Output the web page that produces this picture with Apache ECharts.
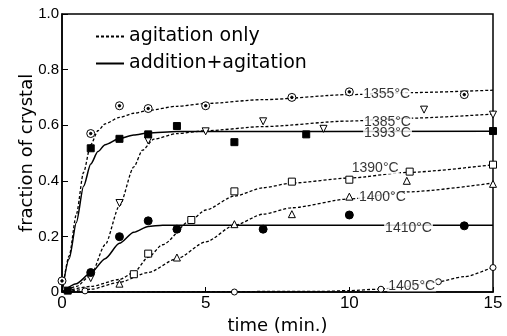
<!DOCTYPE html>
<html>
<head>
<meta charset="UTF-8">
<title>fraction of crystal</title>
<script src="https://cdn.jsdelivr.net/npm/echarts@6/dist/echarts.min.js"></script>
</head>
<body style="margin:0">
<div id="main" style="width:507px;height:336px;"></div>
<script type="text/javascript">
// measured points [time (min.), fraction of crystal]
var p1355 = [[0,0.04],[1,0.57],[2,0.67],[3,0.66],[5,0.67],[8,0.70],[10,0.72],[14,0.71]];
var p1385 = [[1,0.05],[2,0.32],[3,0.545],[5,0.578],[7,0.614],[9.1,0.587],[12.6,0.656],[15,0.638]];
var p1393 = [[0.2,0.005],[1,0.517],[2,0.551],[3,0.567],[4,0.597],[6,0.539],[8.5,0.567],[15,0.579]];
var p1390 = [[2.5,0.064],[3,0.138],[4.5,0.259],[6,0.362],[8,0.397],[10,0.404],[12.1,0.433],[15,0.458]];
var p1400 = [[2,0.03],[4,0.124],[6,0.244],[8,0.28],[10,0.343],[12,0.40],[15,0.389]];
var p1410 = [[1,0.07],[2,0.199],[3,0.256],[4,0.226],[7,0.226],[10,0.277],[14,0.238]];
var p1405 = [[0.8,0.004],[6,0],[11.1,0.01],[13.1,0.037],[15,0.088]];

// fitted curves
var c1355 = [[0,0],[0.25,0.13],[0.5,0.28],[0.75,0.43],[1,0.53],[1.25,0.58],[1.5,0.605],[2,0.628],[2.5,0.643],[3,0.653],[4,0.668],[5,0.678],[7,0.692],[10,0.71],[12,0.717],[15,0.726]];
var c1385 = [[0,0],[0.5,0.02],[1,0.06],[1.5,0.17],[2,0.31],[2.5,0.45],[2.8,0.51],[3.2,0.55],[4,0.57],[5,0.58],[7,0.595],[10,0.615],[12,0.625],[15,0.64]];
var c1393 = [[0,0],[0.25,0.12],[0.5,0.25],[0.75,0.38],[1,0.46],[1.25,0.505],[1.5,0.53],[2,0.552],[2.5,0.565],[3,0.572],[4,0.577],[15,0.578]];
var c1390 = [[0,0],[1,0.02],[2,0.045],[2.5,0.07],[3,0.125],[3.5,0.17],[4.5,0.26],[5,0.295],[6,0.345],[7,0.375],[8,0.392],[10,0.41],[12,0.43],[15,0.458]];
var c1400 = [[0,0],[1,0.01],[2,0.035],[3,0.07],[4,0.12],[5,0.18],[6,0.24],[7,0.28],[8,0.303],[10,0.335],[12,0.36],[15,0.392]];
var c1410 = [[0,0],[0.5,0.03],[1,0.068],[1.5,0.12],[2,0.175],[2.5,0.215],[3,0.236],[3.5,0.24],[15,0.24]];
var c1405 = [[0,0],[9,0.002],[10,0.005],[11,0.01],[12,0.02],[13,0.035],[14,0.055],[15,0.09]];

var tempNames = ['1355°C','1385°C','1393°C','1390°C','1400°C','1410°C','1405°C'];
var tempX = [11.3, 11.33, 11.33, 10.9, 11.15, 12.06, 12.17];
var tempY = [0.711, 0.611, 0.570, 0.444, 0.34, 0.231, 0.022];

var myChart = echarts.init(document.getElementById('main'));

function curve(data, solid) {
    return {
        type: 'line',
        name: solid ? 'addition+agitation' : 'agitation only',
        data: data,
        symbol: 'none',
        smooth: 0.25,
        smoothMonotone: 'x',
        silent: true,
        z: 2,
        color: '#000',
        lineStyle: { color: '#000', width: solid ? 1.5 : 1.3, type: solid ? 'solid' : [3, 2] }
    };
}
function marks(data, symbol, size, filled) {
    return {
        type: 'scatter',
        data: data,
        symbol: symbol,
        symbolSize: size,
        silent: true,
        z: 4,
        itemStyle: { color: filled ? '#000' : '#fff', borderColor: '#000', borderWidth: 1, opacity: 1 }
    };
}

var labelData = [];
for (var i = 0; i < tempNames.length; i++) {
    labelData.push({ name: tempNames[i], value: [tempX[i], tempY[i]] });
}

option = {
    animation: false,
    grid: {
        left: 62, right: 14, top: 14, bottom: 44, outerBoundsMode: 'none',
        show: true, borderColor: '#000', borderWidth: 1.5
    },
    legend: {
        orient: 'vertical',
        left: 90,
        top: 22,
        itemWidth: 28,
        itemHeight: 14,
        itemGap: 8,
        itemStyle: { opacity: 0 },
        data: ['agitation only', 'addition+agitation'],
        textStyle: { fontFamily: 'DejaVu Sans', fontSize: 19, color: '#000' }
    },
    xAxis: {
        type: 'value', min: 0, max: 15, interval: 5,
        name: 'time (min.)', nameLocation: 'middle', nameGap: 25, nameMoveOverlap: false,
        nameTextStyle: { fontFamily: 'DejaVu Sans', fontSize: 18, color: '#000' },
        axisLine: { lineStyle: { color: '#000', width: 1.5 } },
        axisTick: { inside: true, length: 5, lineStyle: { color: '#000' } },
        axisLabel: { fontFamily: 'Liberation Sans', fontSize: 17, color: '#000', margin: 3 },
        splitLine: { show: false }
    },
    yAxis: {
        type: 'value', min: 0, max: 1, interval: 0.2,
        name: 'fraction of crystal', nameLocation: 'middle', nameGap: 26, nameMoveOverlap: false,
        nameTextStyle: { fontFamily: 'DejaVu Sans', fontSize: 18, color: '#000' },
        axisLine: { lineStyle: { color: '#000', width: 1.5 } },
        axisTick: { inside: true, length: 6, lineStyle: { color: '#000' } },
        axisLabel: {
            fontFamily: 'Liberation Sans', fontSize: 15, color: '#000', margin: 3,
            formatter: function (v) { return v === 0 ? '0' : v.toFixed(1); }
        },
        splitLine: { show: false }
    },
    series: [
        curve(c1355, false),
        curve(c1393, true),
        curve(c1385, false),
        curve(c1390, false),
        curve(c1400, false),
        curve(c1410, true),
        curve(c1405, false),
        marks(p1355, 'circle', 8, false),
        marks(p1355, 'circle', 2.5, true),
        marks(p1385, 'path://M0,0L10,0L5,9Z', 7, false),
        marks(p1393, 'rect', 7, true),
        marks(p1390, 'rect', 7, false),
        marks(p1400, 'triangle', 7, false),
        marks(p1410, 'circle', 8, true),
        marks(p1405, 'circle', 6, false),
        {
            type: 'scatter',
            data: labelData,
            symbolSize: 0,
            silent: true,
            z: 5,
            label: {
                show: true,
                position: 'inside',
                formatter: '{b}',
                fontFamily: 'Liberation Sans',
                fontSize: 14,
                lineHeight: 11,
                color: '#000',
                backgroundColor: '#fff',
                padding: [0, 1]
            }
        }
    ]
};
myChart.setOption(option);
</script>
</body>
</html>
